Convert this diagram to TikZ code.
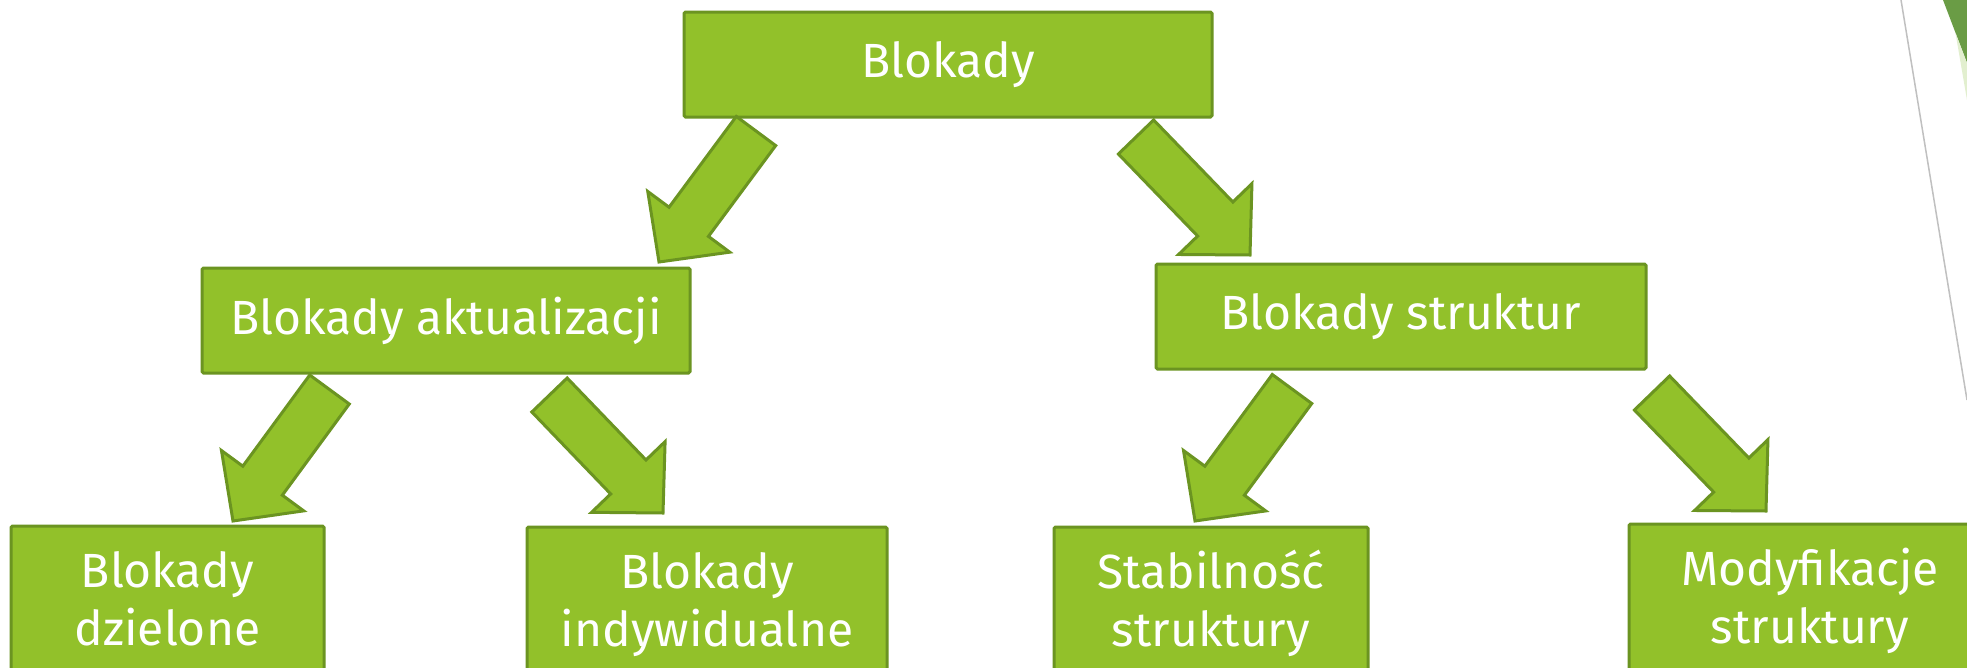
\documentclass[tikz,border=0pt]{standalone}
\usepackage{fontspec}
\setmainfont{Fira Sans}
\usetikzlibrary{calc}
\definecolor{boxfill}{HTML}{92C12A}
\definecolor{boxline}{HTML}{6B9421}
\definecolor{decodark}{HTML}{6A9C45}
\definecolor{decolight}{HTML}{E2EFCF}
\definecolor{decoline}{HTML}{C0C0C0}
\tikzset{
  box/.style={draw=boxline, fill=boxfill, line width=3pt, rounded corners=1.5pt,
    text=white, font=\fontsize{48}{58}\selectfont, inner sep=0pt, align=center},
  toplevel/.style={box, minimum height=105pt},
  leaf/.style={box, minimum height=158pt},
  blockarrow/.style={draw=boxline, fill=boxfill, line width=3pt, line join=miter},
}
% #1 name, #2 tail centre, #3 tip
\newcommand\blockarrow[3]{%
  \coordinate (#1h) at ($(#3)!50pt!(#2)$);
  \draw[blockarrow] ($(#2)!24.5pt!90:(#3)$) -- ($(#1h)!24.5pt!-90:(#2)$)
    -- ($(#1h)!51pt!-90:(#2)$) -- (#3) -- ($(#1h)!51pt!90:(#2)$)
    -- ($(#1h)!24.5pt!90:(#2)$) -- ($(#2)!24.5pt!-90:(#3)$) -- cycle;
}
\begin{document}
\begin{tikzpicture}[x=1pt,y=-1pt]
\useasboundingbox (0,0) rectangle (1967,667);
\clip (0,0) rectangle (1967,667);
\fill[white] (0,0) rectangle (1967,667);

% decoration top right
\draw[decoline, line width=1.5pt] (1901,0) -- (1967,400);
\fill[decodark] (1943,0) -- (1967,0) -- (1967,63) -- cycle;
\fill[decolight] (1955.5,33) -- (1967,63) -- (1967,100) -- cycle;

% boxes
\node[toplevel, minimum width=528pt] (root) at (948,64.5) {Blokady};
\node[toplevel, minimum width=488pt] (upd) at (446,320.5) {Blokady aktualizacji};
\node[toplevel, minimum width=490pt] (str) at (1401,316.5) {Blokady struktur};
\node[leaf, minimum width=313pt] (shared) at (167.5,605) {\strut Blokady\\\strut dzielone};
\node[leaf, minimum width=360pt] (indiv) at (707,606) {\strut Blokady\\\strut indywidualne};
\node[leaf, minimum width=314pt] (stab) at (1211,606) {\strut Stabilność\\\strut struktury};
\node[leaf, minimum width=362pt] (modif) at (1810,603) {\strut Modyfikacje\\\strut struktury};

% connector end points
\coordinate (a1t) at (756,131);    \coordinate (a1p) at (659,262);
\coordinate (a2t) at (1136,137);   \coordinate (a2p) at (1250,255);
\coordinate (a3t) at (329.5,389.5);\coordinate (a3p) at (233,521);
\coordinate (a4t) at (549.5,395);  \coordinate (a4p) at (663,513);
\coordinate (a5t) at (1292,389);   \coordinate (a5p) at (1195,521);
\coordinate (a6t) at (1652,393);   \coordinate (a6p) at (1766,511);

\blockarrow{a1}{a1t}{a1p}
\blockarrow{a2}{a2t}{a2p}
\blockarrow{a3}{a3t}{a3p}
\blockarrow{a4}{a4t}{a4p}
\blockarrow{a5}{a5t}{a5p}
\blockarrow{a6}{a6t}{a6p}
\end{tikzpicture}
\end{document}
